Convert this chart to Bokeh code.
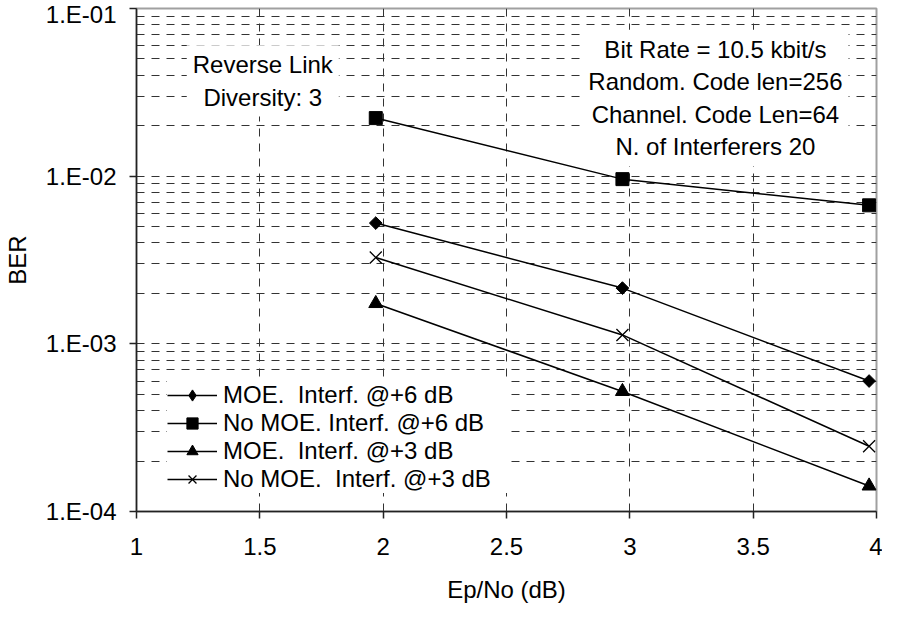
import math
from bokeh.plotting import figure
from bokeh.models import FixedTicker, CustomJSTickFormatter, Label, Legend, LegendItem
from bokeh.embed import file_html
from bokeh.resources import INLINE

# ---- data ----
ep_no = [1.97, 2.97, 3.97]
moe_6db = [5.25e-3, 2.15e-3, 6.0e-4]
nomoe_6db = [2.22e-2, 9.6e-3, 6.7e-3]
moe_3db = [1.74e-3, 5.2e-4, 1.42e-4]
nomoe_3db = [3.27e-3, 1.13e-3, 2.45e-4]

series_labels = ["MOE.  Interf. @+6 dB", "No MOE. Interf. @+6 dB",
                 "MOE.  Interf. @+3 dB", "No MOE.  Interf. @+3 dB"]

x_ticks = [1, 1.5, 2, 2.5, 3, 3.5, 4]
y_ticks = [1e-4, 1e-3, 1e-2, 1e-1]
y_tick_labels = ["1.E-04", "1.E-03", "1.E-02", "1.E-01"]
y_minor = [m * 10.0 ** e for e in (-4, -3, -2) for m in range(2, 10)]

FONT = "Liberation Sans"
FS = "24px"

p = figure(width=882, height=605, x_range=(1, 4), y_range=(1e-4, 1e-1),
           y_axis_type="log", output_backend="svg", toolbar_location=None,
           min_border_left=131, min_border_right=6, min_border_top=8,
           min_border_bottom=94, background_fill_color="white",
           border_fill_color="white")
p.outline_line_color = "#a0a0a0"
p.outline_line_width = 2

# axes
p.xaxis.ticker = FixedTicker(ticks=x_ticks)
p.yaxis.ticker = FixedTicker(ticks=y_ticks, minor_ticks=y_minor)
p.yaxis.formatter = CustomJSTickFormatter(
    args=dict(vals=y_ticks, labs=y_tick_labels),
    code="""
    let best = 0, bd = 1e9;
    for (let i = 0; i < vals.length; i++) {
        const d = Math.abs(Math.log10(tick) - Math.log10(vals[i]));
        if (d < bd) { bd = d; best = i; }
    }
    return labs[best];
    """)
for ax in (p.xaxis[0], p.yaxis[0]):
    ax.axis_line_color = "#222222"
    ax.axis_line_width = 1.5
    ax.major_tick_line_color = "#222222"
    ax.major_tick_line_width = 1.5
    ax.major_tick_in = 0
    ax.major_tick_out = 7
    ax.minor_tick_line_color = None
    ax.major_label_text_font = FONT
    ax.major_label_text_font_size = FS
    ax.major_label_text_color = "black"
    ax.axis_label_text_font = FONT
    ax.axis_label_text_font_size = FS
    ax.axis_label_text_font_style = "normal"
    ax.axis_label_text_color = "black"

p.xaxis.axis_label = "Ep/No (dB)"
p.yaxis.axis_label = "BER"
p.xaxis.major_label_standoff = 19
p.xaxis.axis_label_standoff = 18
p.yaxis.major_label_standoff = 13
p.yaxis.axis_label_standoff = 12

# grid
p.xgrid.ticker = FixedTicker(ticks=x_ticks)
p.xgrid.grid_line_color = "#333333"
p.xgrid.grid_line_width = 1
p.xgrid.grid_line_dash = "8 7"
p.ygrid.ticker = FixedTicker(ticks=y_ticks, minor_ticks=y_minor)
p.ygrid.grid_line_color = "#333333"
p.ygrid.grid_line_width = 1
p.ygrid.grid_line_dash = "8 7"
p.ygrid.minor_grid_line_color = "#333333"
p.ygrid.minor_grid_line_width = 1
p.ygrid.minor_grid_line_dash = "8 7"

# series
l1 = p.line(ep_no, moe_6db, line_color="black", line_width=1.5)
s1 = p.scatter(ep_no, moe_6db, marker="square", size=9, angle=math.pi / 4,
               fill_color="black", line_color="black")
# diamond used for the legend symbol (tiny in the plot, hidden under s1)
d1 = p.scatter(ep_no, moe_6db, marker="diamond", size=1, fill_color="black",
               line_color="black")
l2 = p.line(ep_no, nomoe_6db, line_color="black", line_width=1.5)
s2 = p.scatter(ep_no, nomoe_6db, marker="square", size=13,
               fill_color="black", line_color="black")
l3 = p.line(ep_no, moe_3db, line_color="black", line_width=1.5)
s3 = p.scatter(ep_no, moe_3db, marker="triangle", size=14,
               fill_color="black", line_color="black")
l4 = p.line(ep_no, nomoe_3db, line_color="black", line_width=1.5)
s4 = p.scatter(ep_no, nomoe_3db, marker="x", size=17,
               line_color="black", line_width=1.3)

items = [LegendItem(label=lab, renderers=rs) for lab, rs in
         zip(series_labels, [[l1, d1], [l2, s2], [l3, s3], [l4, s4]])]

legend = Legend(items=items, location=(31, 18), orientation="vertical")
legend.background_fill_color = "white"
legend.background_fill_alpha = 1.0
legend.border_line_color = None
legend.padding = 6
legend.margin = 0
legend.glyph_width = 50
legend.glyph_height = 28
legend.spacing = 0
legend.label_standoff = 6
legend.label_width = 284
legend.label_text_font = FONT
legend.label_text_font_size = FS
legend.label_text_color = "black"
p.add_layout(legend, "center")

# annotations
p.add_layout(Label(x=1.512, y=0.03702, text="Reverse Link\nDiversity: 3",
                   text_align="center", text_baseline="middle",
                   text_font=FONT, text_font_size=FS, text_color="black",
                   text_line_height=1.2,
                   background_fill_color="white", padding=6))
p.add_layout(Label(x=3.347, y=0.02933,
                   text="Bit Rate = 10.5 kbit/s\nRandom. Code len=256\nChannel. Code Len=64\nN. of Interferers 20",
                   text_align="center", text_baseline="middle",
                   text_font=FONT, text_font_size=FS, text_color="black",
                   text_line_height=1.2,
                   background_fill_color="white", padding=6))

open("out.html", "w").write(file_html(p, INLINE))
